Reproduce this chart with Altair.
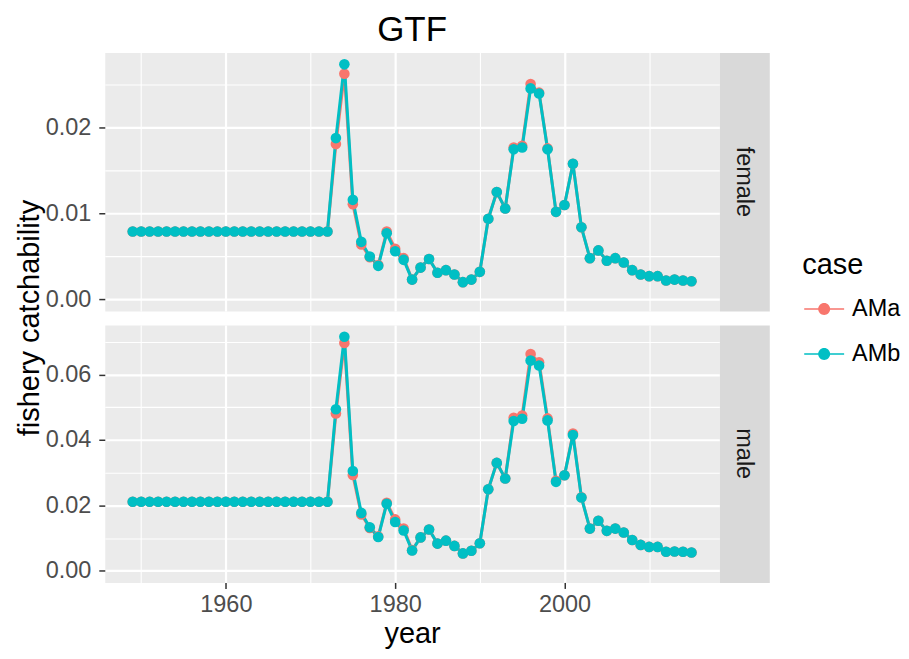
import altair as alt
import pandas as pd

FONT = "Liberation Sans"

years = list(range(1949, 2016))
cases = ["AMa", "AMb"]
case_colors = ["#F8766D", "#00BFC4"]

female_AMa = [
    0.0079, 0.0079, 0.0079, 0.0079, 0.0079, 0.0079, 0.0079, 0.0079, 0.0079, 0.0079, 0.0079, 0.0079,
    0.0079, 0.0079, 0.0079, 0.0079, 0.0079, 0.0079, 0.0079, 0.0079, 0.0079, 0.0079, 0.0079, 0.0079,
    0.0181, 0.0263, 0.0111, 0.0064, 0.0049, 0.0040, 0.0079, 0.0059, 0.0048, 0.0023,
    0.0037, 0.0047, 0.0031, 0.0034, 0.0029, 0.0020, 0.0023, 0.0032, 0.0094, 0.0125,
    0.0106, 0.0177, 0.0179, 0.0251, 0.0241, 0.0176, 0.0102, 0.0110, 0.0158, 0.0084,
    0.0048, 0.0057, 0.0045, 0.0048, 0.0043, 0.0034, 0.0029, 0.0027, 0.0027, 0.0022,
    0.0023, 0.0022, 0.0021,
]
female_AMb = [
    0.0079, 0.0079, 0.0079, 0.0079, 0.0079, 0.0079, 0.0079, 0.0079, 0.0079, 0.0079, 0.0079, 0.0079,
    0.0079, 0.0079, 0.0079, 0.0079, 0.0079, 0.0079, 0.0079, 0.0079, 0.0079, 0.0079, 0.0079, 0.0079,
    0.0188, 0.0274, 0.0116, 0.0067, 0.0050, 0.0039, 0.0077, 0.0056, 0.0046, 0.0023,
    0.0037, 0.0047, 0.0031, 0.0034, 0.0029, 0.0020, 0.0023, 0.0032, 0.0094, 0.0125,
    0.0106, 0.0175, 0.0177, 0.0246, 0.0240, 0.0175, 0.0102, 0.0110, 0.0158, 0.0084,
    0.0048, 0.0057, 0.0045, 0.0048, 0.0043, 0.0034, 0.0029, 0.0027, 0.0027, 0.0022,
    0.0023, 0.0022, 0.0021,
]
male_AMa = [
    0.0211, 0.0211, 0.0211, 0.0211, 0.0211, 0.0211, 0.0211, 0.0211, 0.0211, 0.0211, 0.0211, 0.0211,
    0.0211, 0.0211, 0.0211, 0.0211, 0.0211, 0.0211, 0.0211, 0.0211, 0.0211, 0.0211, 0.0211, 0.0211,
    0.0481, 0.0697, 0.0293, 0.0172, 0.0131, 0.0105, 0.0208, 0.0157, 0.0129, 0.0063,
    0.0102, 0.0126, 0.0083, 0.0092, 0.0076, 0.0053, 0.0061, 0.0084, 0.0249, 0.0330,
    0.0282, 0.0468, 0.0475, 0.0663, 0.0638, 0.0466, 0.0275, 0.0292, 0.0420, 0.0225,
    0.0129, 0.0153, 0.0122, 0.0129, 0.0117, 0.0094, 0.0079, 0.0073, 0.0073, 0.0058,
    0.0059, 0.0058, 0.0056,
]
male_AMb = [
    0.0211, 0.0211, 0.0211, 0.0211, 0.0211, 0.0211, 0.0211, 0.0211, 0.0211, 0.0211, 0.0211, 0.0211,
    0.0211, 0.0211, 0.0211, 0.0211, 0.0211, 0.0211, 0.0211, 0.0211, 0.0211, 0.0211, 0.0211, 0.0211,
    0.0494, 0.0716, 0.0305, 0.0177, 0.0133, 0.0103, 0.0205, 0.0149, 0.0123, 0.0062,
    0.0102, 0.0126, 0.0083, 0.0092, 0.0076, 0.0053, 0.0061, 0.0084, 0.0249, 0.0330,
    0.0282, 0.0458, 0.0465, 0.0643, 0.0628, 0.0460, 0.0272, 0.0292, 0.0415, 0.0224,
    0.0129, 0.0153, 0.0122, 0.0129, 0.0117, 0.0094, 0.0079, 0.0073, 0.0073, 0.0058,
    0.0059, 0.0058, 0.0056,
]

x_ticks = [1950, 1960, 1970, 1980, 1990, 2000, 2010]
female_ticks = [0.0, 0.005, 0.01, 0.015, 0.02, 0.025]
male_ticks = [0.0, 0.01, 0.02, 0.03, 0.04, 0.05, 0.06, 0.07]

series = {
    "female": {"AMa": female_AMa, "AMb": female_AMb},
    "male": {"AMa": male_AMa, "AMb": male_AMb},
}
rows = []
for sex in ["female", "male"]:
    for case in cases:
        for yr, v in zip(years, series[sex][case]):
            rows.append({"year": yr, "sex": sex, "case": case, "line_case": case, "value": v})
df = pd.DataFrame(rows)

span = max(years) - min(years)
x_domain = [min(years) - 0.05 * span, max(years) + 0.05 * span]

PANEL_W = 616
H = {"female": 259, "male": 258}
GAP = 14

SYMBOL = ("M-1,-0.0375L1,-0.0375L1,0.0375L-1,0.0375Z "
          "M-0.3,0A0.3,0.3 0 1,1 0.3,0A0.3,0.3 0 1,1 -0.3,0Z")


def cond(test, a, b):
    return {"condition": {"test": test, "value": a}, "value": b}


LEGEND = alt.Legend(
    title="case", orient="none", legendX=699, legendY=199,
    symbolType=SYMBOL, symbolSize=1600, symbolStrokeWidth=0,
    symbolOpacity=1, symbolOffset=2, titleFont=FONT, titleFontSize=29,
    titleFontWeight="normal", titleColor="black", titlePadding=9,
    labelFont=FONT, labelFontSize=23.5, labelColor="black",
    labelOffset=8, rowPadding=13, padding=0,
)


def panel(sex, major_step, bottom, title=None):
    d = df[df.sex == sex]
    vmax = d.value.max()
    y_domain = [-0.05 * vmax, 1.05 * vmax]
    ymajor = f"abs(datum.value/{major_step} - round(datum.value/{major_step})) < 1e-6"
    xmajor = "datum.value % 20 == 0"
    yticks = female_ticks if sex == "female" else male_ticks

    xaxis_kw = dict(
        values=x_ticks, grid=True, gridColor="white",
        gridWidth=cond(xmajor, 2.2, 1.1), domain=False,
    )
    if bottom:
        xaxis_kw.update(
            ticks=True, tickColor="#333333", tickWidth=1.5, tickSize=6,
            tickOpacity=cond(xmajor, 1, 0), labels=True,
            labelExpr="datum.value % 20 == 0 ? datum.label : ''",
            format="d", labelFont=FONT, labelFontSize=23.5, labelColor="#4D4D4D",
            labelPadding=4, title="year", titleFont=FONT, titleFontSize=29,
            titleFontWeight="normal", titleColor="black", titlePadding=4,
        )
    else:
        xaxis_kw.update(ticks=False, labels=False, title=None)

    yaxis_kw = dict(
        values=yticks, grid=True, gridColor="white",
        gridWidth=cond(ymajor, 2.2, 1.1), domain=False,
        ticks=True, tickColor="#333333", tickWidth=1.5, tickSize=6,
        tickOpacity=cond(ymajor, 1, 0),
        labelExpr=f"{ymajor} ? format(datum.value, '.2f') : ''",
        labelFont=FONT, labelFontSize=23.5, labelColor="#4D4D4D", labelPadding=8,
    )
    if sex == "female":
        yaxis_kw.update(
            title="fishery catchability", titleFont=FONT, titleFontSize=29,
            titleFontWeight="normal", titleColor="black", titlePadding=1,
            titleY=(H["female"] + GAP + H["male"]) / 2,
        )
    else:
        yaxis_kw.update(title=None)

    x = alt.X("year:Q", scale=alt.Scale(domain=x_domain, nice=False, zero=False),
              axis=alt.Axis(**xaxis_kw))
    y = alt.Y("value:Q", scale=alt.Scale(domain=y_domain, nice=False, zero=False),
              axis=alt.Axis(**yaxis_kw))

    base = alt.Chart(d)
    # stroke scale keeps a data-derived domain so that its (disabled) legend
    # is not merged with the colour legend of the points
    lines = base.mark_line(strokeWidth=3).encode(
        x=x, y=y,
        stroke=alt.Stroke("line_case:N", scale=alt.Scale(range=case_colors), legend=None),
    )
    points = base.mark_circle(size=113, opacity=1).encode(
        x=x, y=y,
        color=alt.Color("case:N", scale=alt.Scale(domain=cases, range=case_colors),
                        legend=LEGEND),
    )
    props = dict(width=PANEL_W, height=H[sex],
                 view=alt.ViewBackground(fill="#EBEBEB", stroke="transparent"))
    if title:
        props["title"] = alt.TitleParams(
            title, font=FONT, fontSize=35, fontWeight="normal", color="black",
            anchor="middle", offset=5,
        )
    return alt.layer(lines, points).properties(**props)


def strip(sex):
    lab = pd.DataFrame({"label": [sex]})
    return alt.Chart(lab).mark_text(
        angle=90, font=FONT, fontSize=23.5, color="#1A1A1A"
    ).encode(
        text="label:N", x=alt.value(25), y=alt.value(H[sex] / 2)
    ).properties(
        width=50, height=H[sex],
        view=alt.ViewBackground(fill="#D9D9D9", stroke="transparent"),
    )


chart = alt.concat(
    panel("female", 0.01, False, "GTF"), strip("female"),
    panel("male", 0.02, True), strip("male"),
    columns=2, spacing={"row": GAP, "column": 0}, bounds="flush",
).properties(
    padding={"left": 6, "top": 3, "right": 0, "bottom": 5},
    background="white",
).configure(font=FONT)

chart.save("out.html", embed_options={"renderer": "svg", "actions": False})
